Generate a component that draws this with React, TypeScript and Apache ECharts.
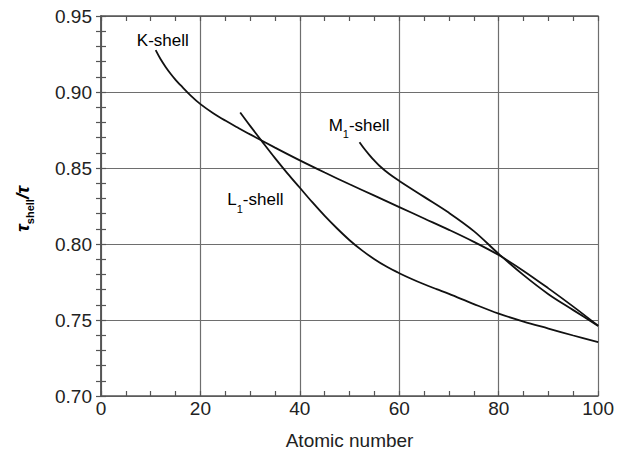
import React, { useEffect, useRef } from "react";
import * as echarts from "echarts";

// Atomic number (Z) and ratio tau_shell / tau for each shell curve
const kShellZ = [11, 12, 13, 14, 15, 16, 18, 20, 22.5, 25, 27.5, 30, 35, 40, 45, 50, 55, 60, 65, 70, 75, 80, 85, 90, 95, 100];
const kShellRatio = [0.9275, 0.9215, 0.9165, 0.912, 0.908, 0.9045, 0.8978, 0.892, 0.8862, 0.8812, 0.8766, 0.8721, 0.8634, 0.855, 0.847, 0.8393, 0.8318, 0.8243, 0.8168, 0.8093, 0.8014, 0.7927, 0.7823, 0.7708, 0.7588, 0.7462];

const l1ShellZ = [28, 30, 32.5, 35, 37.5, 40, 42.5, 45, 47.5, 50, 52.5, 55, 57.5, 60, 62.5, 65, 67.5, 70, 75, 80, 85, 90, 95, 100];
const l1ShellRatio = [0.8865, 0.8777, 0.867, 0.8565, 0.8465, 0.837, 0.8275, 0.8185, 0.8102, 0.8025, 0.7958, 0.79, 0.785, 0.7808, 0.777, 0.7735, 0.7703, 0.7672, 0.7605, 0.7542, 0.749, 0.7444, 0.7398, 0.7355];

const m1ShellZ = [52, 53, 54, 55, 56, 58, 60, 65, 70, 75, 80, 85, 90, 95, 100];
const m1ShellRatio = [0.867, 0.8625, 0.8585, 0.8548, 0.8515, 0.846, 0.8415, 0.831, 0.8205, 0.8085, 0.7935, 0.7795, 0.767, 0.7565, 0.746];

const xTicks = [0, 20, 40, 60, 80, 100];
const yTicks = ["0.70", "0.75", "0.80", "0.85", "0.90", "0.95"];

// curve annotations: text parts and anchor (data coords)
const curveLabels = [
  { main: "K", sub: "", rest: "-shell", z: 7.2, r: 0.9335 },
  { main: "M", sub: "1", rest: "-shell", z: 45.8, r: 0.8775 },
  { main: "L", sub: "1", rest: "-shell", z: 25.4, r: 0.8285 },
];

const FONT = "'Liberation Sans', Arial, Helvetica, sans-serif";

function pairs(xs: number[], ys: number[]) {
  return xs.map((x, i) => [x, ys[i]]);
}

export default function App() {
  const ref = useRef<HTMLDivElement>(null);
  useEffect(() => {
    if (!ref.current) return;
    const chart = echarts.init(ref.current, undefined, { renderer: "svg" });
    const axisLineStyle = { color: "#555", width: 1.5 };
    const tick = { show: true, inside: true, length: 5, lineStyle: { color: "#555", width: 1.2 } };
    const minorTick = (n: number) => ({ show: true, splitNumber: n, length: 5, lineStyle: { color: "#555", width: 1.2 } });
    const lineSeries = (name: string, data: number[][]) => ({
      name,
      type: "line",
      data,
      smooth: 0.35,
      showSymbol: false,
      symbol: "none",
      lineStyle: { color: "#111", width: 1.8 },
      z: 5,
    });
    chart.setOption({
      animation: false,
      backgroundColor: "#fff",
      grid: { left: 101, right: 15, top: 16, bottom: 57, containLabel: false },
      xAxis: [
        {
          type: "value",
          min: xTicks[0],
          max: xTicks[xTicks.length - 1],
          interval: xTicks[1] - xTicks[0],
          name: "Atomic number",
          nameLocation: "middle",
          nameGap: 35,
          nameTextStyle: { fontFamily: FONT, fontSize: 19, color: "#222" },
          axisLine: { show: true, lineStyle: axisLineStyle },
          axisTick: tick,
          minorTick: minorTick(4),
          axisLabel: { fontFamily: FONT, fontSize: 19, color: "#222", margin: 3 },
          splitLine: { show: true, lineStyle: { color: "#6e6e6e", width: 1.2 } },
        },
        {
          type: "value",
          position: "top",
          min: xTicks[0],
          max: xTicks[xTicks.length - 1],
          interval: xTicks[1] - xTicks[0],
          axisLine: { show: true, lineStyle: axisLineStyle },
          axisTick: tick,
          minorTick: minorTick(4),
          axisLabel: { show: false },
          splitLine: { show: false },
        },
      ],
      yAxis: [
        {
          type: "value",
          min: Number(yTicks[0]),
          max: Number(yTicks[yTicks.length - 1]),
          interval: 0.05,
          axisLine: { show: true, lineStyle: axisLineStyle },
          axisTick: tick,
          minorTick: minorTick(5),
          axisLabel: {
            fontFamily: FONT,
            fontSize: 19,
            color: "#222",
            margin: 9,
            formatter: (v: number) => v.toFixed(2),
          },
          splitLine: { show: true, lineStyle: { color: "#6e6e6e", width: 1.2 } },
        },
        {
          type: "value",
          position: "right",
          min: Number(yTicks[0]),
          max: Number(yTicks[yTicks.length - 1]),
          interval: 0.05,
          axisLine: { show: true, lineStyle: axisLineStyle },
          axisTick: tick,
          minorTick: minorTick(5),
          axisLabel: { show: false },
          splitLine: { show: false },
        },
      ],
      series: [
        lineSeries("K-shell", pairs(kShellZ, kShellRatio)),
        lineSeries("L1-shell", pairs(l1ShellZ, l1ShellRatio)),
        lineSeries("M1-shell", pairs(m1ShellZ, m1ShellRatio)),
      ],
    });

    const labelRich = {
      m: { fontFamily: FONT, fontSize: 17, color: "#111", lineHeight: 19, verticalAlign: "top" },
      s: { fontFamily: FONT, fontSize: 11, color: "#111", lineHeight: 12, padding: [12, 0, 0, 0], verticalAlign: "top" },
    };
    const labelGraphics = curveLabels.map((l) => {
      const p = chart.convertToPixel({ gridIndex: 0 }, [l.z, l.r]) as number[];
      const text = l.sub ? `{m|${l.main}}{s|${l.sub}}{m|${l.rest}}` : `{m|${l.main}${l.rest}}`;
      return {
        type: "text",
        x: p[0],
        y: p[1],
        z: 10,
        style: { text, rich: labelRich, verticalAlign: "middle", align: "left" },
      };
    });

    chart.setOption({
      graphic: [
        ...labelGraphics,
        {
          type: "text",
          x: 23,
          y: 209,
          rotation: Math.PI / 2,
          z: 10,
          style: {
            text: "{t|τ}{s|shell}{t|/τ}",
            align: "center",
            verticalAlign: "middle",
            rich: {
              t: { fontFamily: FONT, fontSize: 19, fontWeight: "bold", fontStyle: "italic", color: "#111", lineHeight: 21, verticalAlign: "top" },
              s: { fontFamily: FONT, fontSize: 11, fontWeight: "bold", color: "#111", lineHeight: 12, padding: [12, 0, 0, 0], verticalAlign: "top" },
            },
          },
        },
      ],
    });

    return () => chart.dispose();
  }, []);
  return <div ref={ref} style={{ position: "fixed", left: 0, top: 0, width: 617, height: 455 }} />;
}
